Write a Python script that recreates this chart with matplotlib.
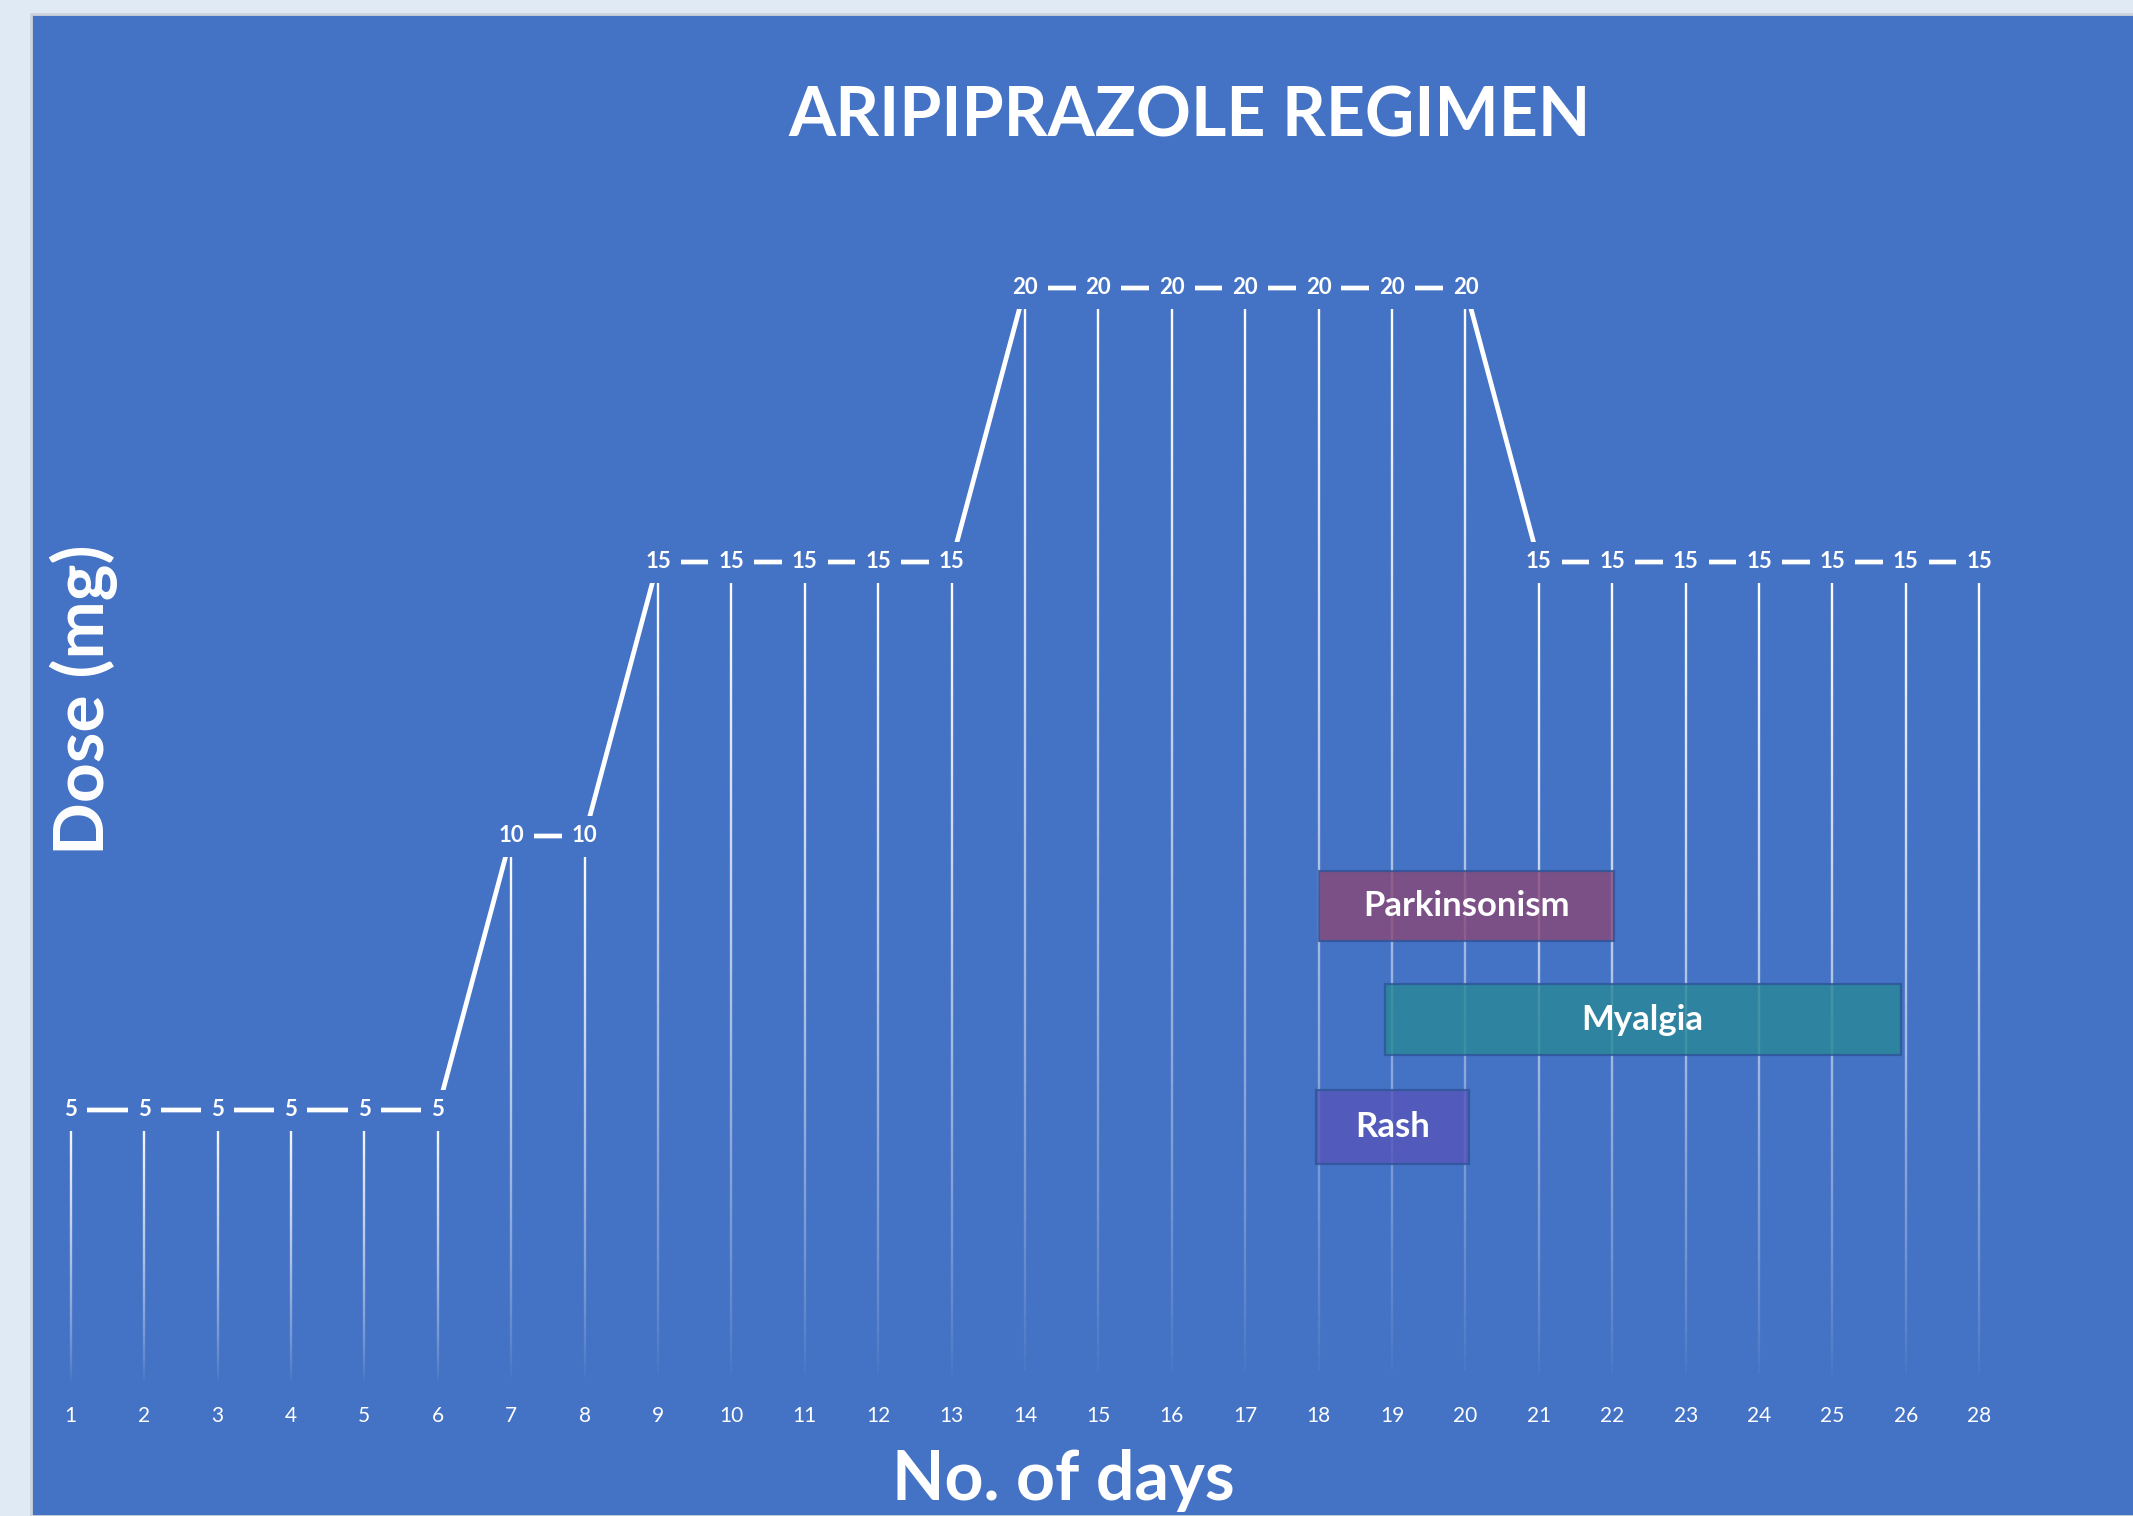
import matplotlib
matplotlib.use("Agg")
import matplotlib.pyplot as plt
from matplotlib.collections import LineCollection
from matplotlib.patches import Rectangle
import numpy as np

plt.rcParams["font.family"] = ["Lato", "DejaVu Sans"]

# data
day_labels = ["1", "2", "3", "4", "5", "6", "7", "8", "9", "10", "11", "12", "13", "14",
              "15", "16", "17", "18", "19", "20", "21", "22", "23", "24", "25", "26", "28"]
dose_mg = [5, 5, 5, 5, 5, 5, 10, 10, 15, 15, 15, 15, 15, 20,
           20, 20, 20, 20, 20, 20, 15, 15, 15, 15, 15, 15, 15]

events = ["Parkinsonism", "Myalgia", "Rash"]
event_start_day = [18.0, 18.9, 17.96]
event_end_day = [22.02, 25.93, 20.05]
event_level = [8.72, 6.65, 4.69]
event_band = [1.29, 1.30, 1.36]
event_colors = ["#894878", "#298897", "#5656BA"]

PANEL = "#4472C4"
W, H = 2133, 1516

fig = plt.figure(figsize=(W / 100, H / 100), dpi=100)
fig.patch.set_facecolor("#DFEAF5")
fig.patches.append(Rectangle((31 / W, 0), 1 - 31 / W + 0.01, 1 - 14 / H,
                             transform=fig.transFigure, facecolor=PANEL,
                             edgecolor="#CDD3DA", linewidth=2, zorder=-5))

ax = fig.add_axes([34 / W, 132 / H, (2016 - 34) / W, 22 * 54.8 / H])
ax.set_facecolor("none")
x = np.arange(len(dose_mg))

# drop lines, white fading out towards the axis
n_seg = 80
for xi, yi in zip(x, dose_mg):
    ys = np.linspace(yi, 0, n_seg + 1)
    segs = [[(xi, ys[k]), (xi, ys[k + 1])] for k in range(n_seg)]
    alphas = np.linspace(1.0, 0.0, n_seg) ** 0.75
    cols = [(1, 1, 1, a) for a in alphas]
    ax.add_collection(LineCollection(segs, colors=cols, linewidths=1.7,
                                     capstyle="butt", zorder=2))

ax.plot(x, dose_mg, color="white", linewidth=3.4, solid_capstyle="butt", zorder=3)

for xi, yi in zip(x, dose_mg):
    ax.text(xi, yi, str(yi), ha="center", va="center", color="white",
            fontsize=16, fontweight="bold", zorder=5,
            bbox=dict(boxstyle="square,pad=0.45", facecolor=PANEL, edgecolor="none"))

# adverse event bars
starts = np.array(event_start_day) - 1
widths = np.array(event_end_day) - np.array(event_start_day)
ax.barh(event_level, widths, height=event_band, left=starts, color=event_colors,
        alpha=0.8, edgecolor="#2F5597", linewidth=1.6, zorder=4)
for name, s, w, lv in zip(events, starts, widths, event_level):
    ax.text(s + w / 2, lv, name, ha="center", va="center", color="white",
            fontsize=25, fontweight="bold", zorder=6)

ax.set_xlim(-0.5, len(dose_mg) - 0.5)
ax.set_ylim(0, 22)
ax.set_xticks(x)
ax.set_xticklabels(day_labels)
ax.set_yticks([])
ax.tick_params(axis="x", length=0, pad=16, labelsize=15, labelcolor="white")
for sp in ax.spines.values():
    sp.set_visible(False)

fig.text(1190 / W, 1 - 117 / H, "ARIPIPRAZOLE REGIMEN", ha="center", va="center",
         color="white", fontsize=49, fontweight="bold")
fig.text(84 / W, 1 - 700 / H, "Dose (mg)", ha="center", va="center", rotation=90,
         color="white", fontsize=50, fontweight="bold")
fig.text(1063 / W, 16 / H, "No. of days", ha="center", va="baseline",
         color="white", fontsize=49, fontweight="bold")

fig.savefig("out.png", dpi=100, facecolor=fig.get_facecolor())
